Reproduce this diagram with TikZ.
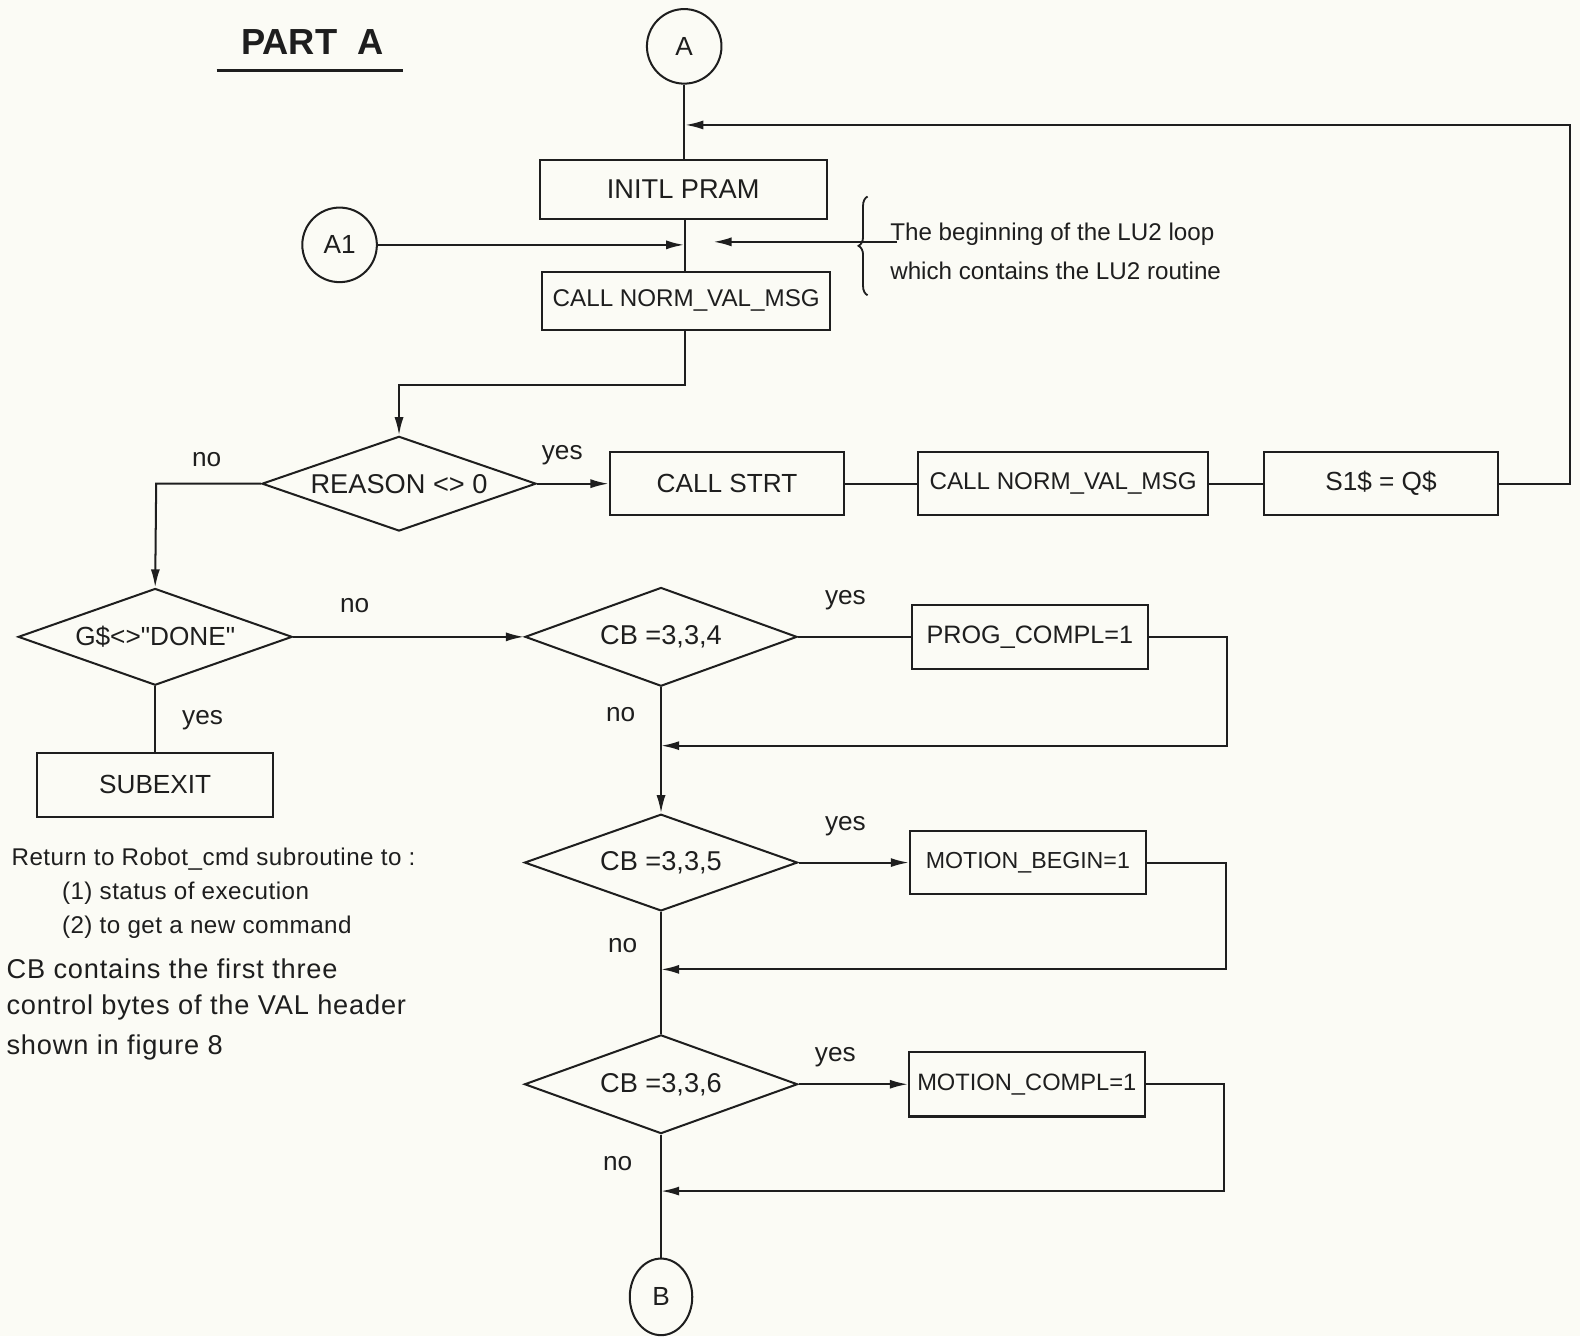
\documentclass[tikz,border=0pt]{standalone}
\usepackage{fontspec}
\setmainfont{Liberation Sans}
\newfontfamily\plainsans{Liberation Sans}[Ligatures=ResetAll]
\usetikzlibrary{shapes.geometric,arrows.meta,decorations.pathreplacing}
\definecolor{paper}{RGB}{251,251,245}
\definecolor{ink}{RGB}{30,30,30}
\newcommand{\fs}[1]{\fontsize{#1}{#1}\selectfont}
\newcommand{\dq}{{\plainsans\char"22\relax}}
\tikzset{
  every node/.style={text=ink},
  boxnode/.style={draw=ink, line width=2pt, rectangle, inner sep=0pt, font=\fs{24}},
  decision/.style={draw=ink, line width=2pt, diamond, aspect=2.8, inner sep=0pt, font=\fs{27}},
  connector/.style={draw=ink, line width=2pt, circle, inner sep=0pt, minimum size=74pt, font=\fs{26}},
  flow/.style={draw=ink, line width=2pt},
  flowarrow/.style={flow, -{Latex[length=18pt,width=9pt]}},
  answer/.style={font=\fs{26}},
  note/.style={anchor=west, font=\fs{24}\addfontfeature{LetterSpace=2}},
  bignote/.style={anchor=west, font=\fs{27}\addfontfeature{LetterSpace=3}}
}
\begin{document}
\begin{tikzpicture}[x=1pt, y=-1pt]
  \fill[paper] (0,0) rectangle (1568,1326);
  \useasboundingbox (0,0) rectangle (1568,1326);

  % heading
  \node[font=\bfseries\fs{36}] (parta) at (310,42) {PART\ \ A};
  \draw[ink, line width=3pt] (215,70) -- (400,70);

  % top of the routine
  \node[connector] (A) at (679,46) {A};
  \node[boxnode, minimum width=285pt, minimum height=58pt, font=\fs{27}] (initl) at (678,188) {INITL PRAM};
  \node[connector] (A1) at (337,243) {A1};
  \node[boxnode, minimum width=286pt, minimum height=57pt] (norm1) at (681,298.5) {CALL NORM\_VAL\_MSG};

  % first decision and the LU2 loop
  \node[decision, minimum width=272pt, minimum height=94pt] (reason) at (396,480) {REASON <> 0};
  \node[boxnode, minimum width=233pt, minimum height=63pt, font=\fs{26}] (strt) at (721.5,480) {CALL STRT};
  \node[boxnode, minimum width=288pt, minimum height=62pt] (norm2) at (1055,480) {CALL NORM\_VAL\_MSG};
  \node[boxnode, minimum width=233pt, minimum height=62pt, font=\fs{26}] (s1q) at (1370.5,480) {S1\$ = Q\$};

  % exit test
  \node[decision, minimum width=272pt, minimum height=96pt, font=\fs{26}] (gdone) at (154,632) {G\$<>\dq DONE\dq};
  \node[boxnode, minimum width=234pt, minimum height=64pt, font=\fs{26}] (subexit) at (154,779) {SUBEXIT};

  % control byte tests
  \node[decision, minimum width=270pt, minimum height=98pt] (cb4) at (656,632) {CB =3,3,4};
  \node[boxnode, minimum width=234pt, minimum height=64pt, font=\fs{25}] (prog) at (1022,632) {PROG\_COMPL=1};
  \node[decision, minimum width=271pt, minimum height=96pt] (cb5) at (656,856) {CB =3,3,5};
  \node[boxnode, minimum width=234pt, minimum height=63pt, font=\fs{23}] (mbegin) at (1020,856) {MOTION\_BEGIN=1};
  \node[decision, minimum width=271pt, minimum height=98pt] (cb6) at (656,1076) {CB =3,3,6};
  \node[boxnode, minimum width=234pt, minimum height=64pt, font=\fs{23.5}] (mcompl) at (1019,1076) {MOTION\_COMPL=1};
  \node[draw=ink, line width=2pt, ellipse, inner sep=0pt, minimum width=62pt, minimum height=76pt, font=\fs{26}] (B) at (656,1287) {B};

  % junction points on the main line
  \coordinate (jloop) at (680,124);
  \coordinate (jA1) at (679,243);
  \coordinate (jbr) at (708,240);
  \coordinate (bstart) at (890,240);
  \coordinate (m1) at (656,740);
  \coordinate (m2) at (656,962);
  \coordinate (m3) at (656,1182);

  % main line
  \draw[flow] (A.south) -- (A.south |- initl.north);
  \draw[flow] (initl.south -| 680,0) -- (norm1.north -| 680,0);
  \draw[flowarrow] (norm1.south -| 680,0) -- (680,382) -- (396,382) -- (reason.north);
  \draw[flowarrow] (A1.east) -- (jA1);
  \draw[flowarrow] (bstart) -- (jbr);

  % brace and remark
  \draw[ink, line width=1.8pt, decorate, decoration={brace, amplitude=9pt}] (861,293) -- (861,195);
  \node[anchor=west, font=\fs{24}] (rem1) at (880,232) {The beginning of the LU2 loop};
  \node[anchor=west, font=\fs{24}] (rem2) at (880,269) {which contains the LU2 routine};

  % reason branches
  \draw[flowarrow] (reason.east) -- (strt.west);
  \draw[flow] (strt.east) -- (norm2.west);
  \draw[flow] (norm2.east) -- (s1q.west);
  \draw[flowarrow] (s1q.east) -- (1558,480) -- (1558,124) -- (jloop);
  \draw[flowarrow] (reason.west) -- (155,480) -- (gdone.north);
  \node[answer] (lno1) at (205,456) {no};
  \node[answer] (lyes1) at (558,452) {yes};

  % exit branches
  \draw[flowarrow] (gdone.east) -- (cb4.west);
  \draw[flow] (gdone.south) -- (subexit.north);
  \node[answer] (lno2) at (352,601) {no};
  \node[answer] (lyes2) at (201,715) {yes};

  % control byte branches
  \draw[flow] (cb4.east) -- (prog.west);
  \draw[flowarrow] (prog.east) -- (1218,632) -- (1218,740) -- (m1);
  \draw[flowarrow] (cb4.south) -- (cb5.north);
  \node[answer] (lyes3) at (839,596) {yes};
  \node[answer] (lno3) at (616,709) {no};

  \draw[flowarrow] (cb5.east) -- (mbegin.west);
  \draw[flowarrow] (mbegin.east) -- (1217,856) -- (1217,962) -- (m2);
  \draw[flow] (cb5.south) -- (cb6.north);
  \node[answer] (lyes4) at (839,820) {yes};
  \node[answer] (lno4) at (618,938) {no};

  \draw[flowarrow] (cb6.east) -- (mcompl.west);
  \draw[flowarrow] (mcompl.east) -- (1215,1076) -- (1215,1182) -- (m3);
  \draw[flow] (cb6.south) -- (B.north);
  \node[answer] (lyes5) at (829,1049) {yes};
  \node[answer] (lno5) at (613,1155) {no};

  % notes under SUBEXIT
  \node[note] (n1) at (8,853) {Return to Robot\_cmd subroutine to :};
  \node[note] (n2) at (58,886) {(1) status of execution};
  \node[note] (n3) at (58,920) {(2) to get a new command};
  \node[bignote] (n4) at (3,961) {CB contains the first three};
  \node[bignote] (n5) at (3,1000) {control bytes of the VAL header};
  \node[bignote] (n6) at (3,1039) {shown in figure 8};
\end{tikzpicture}
\end{document}
